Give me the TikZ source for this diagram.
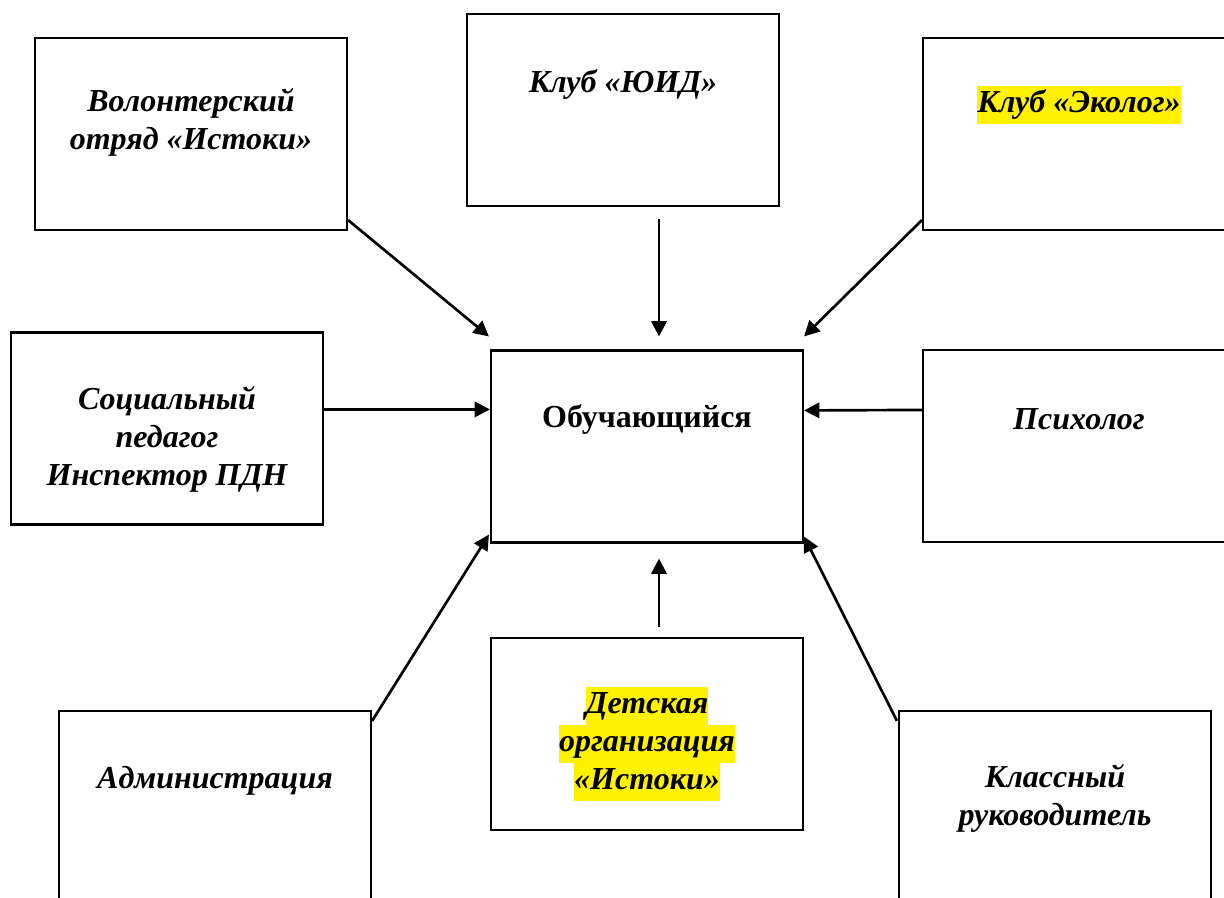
\documentclass[tikz,border=0pt]{standalone}
\usepackage{fontspec}
\setmainfont{Liberation Serif}
\usetikzlibrary{arrows.meta,calc}
\newcommand\hlt[1]{{\setlength{\fboxsep}{0pt}\colorbox{yellow}{\strut #1}}}
\tikzset{
  box/.style={draw, line width=1.6pt, rectangle, inner sep=0pt, minimum width=234pt, minimum height=144pt},
  txt/.style={align=center, inner sep=0pt, font=\fontsize{24}{28.5}\selectfont\bfseries\itshape},
  conn/.style={line width=2pt, -{Triangle[length=11.5pt,width=11.5pt]}}
}
\begin{document}
\begin{tikzpicture}[x=0.75pt,y=-0.75pt]
\useasboundingbox (0,0) rectangle (1224,898);
% boxes
\node[box] (vol)  at (191,134) {};
\node[box] (yuid) at (623,110) {};
\node[box] (eco)  at (1079,134) {};
\node[box] (soc)  at (167,428.5) {};
\node[box] (stu)  at (647,446.5) {};
\node[box] (psy)  at (1079,446) {};
\node[box] (adm)  at (215,807) {};
\node[box] (det)  at (647,734) {};
\node[box] (cls)  at (1055,807) {};
% texts
\node[txt] (tvol) at (191,123.4) {\strut Волонтерский\\\strut отряд «Истоки»};
\node[txt] (tyuid) at (623,85) {\strut Клуб «ЮИД»};
\node[txt] (teco) at (1079,105.4) {\hlt{Клуб «Эколог»}};
\node[txt] (tsoc) at (167,439.4) {\strut Социальный\\\strut педагог\\\strut Инспектор ПДН};
\node[txt, font=\fontsize{24}{28.5}\selectfont\bfseries] (tstu) at (647,419.4) {\strut Обучающийся};
\node[txt] (tpsy) at (1079,421.4) {\strut Психолог};
\node[txt] (tdet) at (647,744) {\hlt{Детская}\\\hlt{организация}\\\hlt{«Истоки»}};
\node[txt] (tadm) at (215,781) {\strut Администрация};
\node[txt] (tcls) at (1055,799) {\strut Классный\\\strut руководитель};
% connectors
\draw[conn] ($(vol.south east)+(0,-11)$) -- ($(stu.north west)+(-1,-13)$);
\draw[conn] ($(yuid.south)+(36,12)$) -- ($(stu.north)+(12,-13)$);
\draw[conn] ($(eco.south west)+(0,-11)$) -- ($(stu.north east)+(0,-13)$);
\draw[conn] ($(soc.north east)+(0,78)$) -- ($(stu.north west)+(0,60)$);
\draw[conn] ($(psy.north west)+(0,61)$) -- ($(stu.north east)+(0,61)$);
\draw[conn] ($(adm.north east)+(0,11)$) -- ($(stu.south west)+(-1,-9)$);
\draw[conn] ($(det.north)+(12,-10)$) -- ($(stu.south)+(12,15)$);
\draw[conn] ($(cls.north west)+(-1,11)$) -- ($(stu.south east)+(0,-7)$);
\end{tikzpicture}
\end{document}
